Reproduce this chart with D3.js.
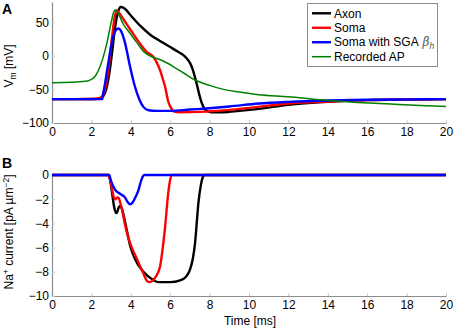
<!DOCTYPE html>
<html>
<head>
<meta charset="utf-8">
<script src="https://cdn.jsdelivr.net/npm/d3@7"></script>
<style>
  body { margin: 0; background: #fff; }
  svg { display: block; font-family: "Liberation Sans", Arial, sans-serif; }
</style>
</head>
<body>
<div id="chart"></div>
<script>
// DATA  (time in ms, membrane potential in mV, current in pA um^-2)
const timeTicks = [0, 2, 4, 6, 8, 10, 12, 14, 16, 18, 20];
const vmTicks = [-100, -50, 0, 50];
const naTicks = [-10, -8, -6, -4, -2, 0];
const seriesNames = ['Axon', 'Soma', 'Soma with SGA', 'Recorded AP'];

const axonVm = [[0,-64.5],[2,-64.3],[2.4,-63.5],[2.6,-60],[2.75,-50],[2.9,-28],[3.05,5],[3.2,42],[3.35,65],[3.5,72.5],[3.7,70],[4.0,60],[4.5,44],[5.0,31],[5.48,22],[6.0,13],[6.4,6],[6.67,1],[6.9,-6],[7.09,-16],[7.22,-28],[7.34,-41],[7.47,-57],[7.6,-70],[7.72,-78],[7.85,-82],[8.1,-84],[8.7,-84],[9.5,-82],[10.5,-79],[12,-73],[14,-68.5],[16,-66],[18,-65],[20,-64.5]];
const somaVm = [[0,-64.5],[2,-64.3],[2.4,-63],[2.6,-58],[2.75,-42],[2.9,-12],[3.05,28],[3.18,57],[3.28,67.5],[3.4,64],[3.7,51],[4.0,38],[4.47,18],[4.8,6],[5.14,-1.5],[5.3,-9],[5.48,-21],[5.6,-32],[5.74,-46],[5.9,-68],[6.05,-78],[6.2,-83],[6.5,-84],[7.5,-83.5],[9,-80.5],[10,-77.5],[12,-71],[14,-68],[16,-66],[18,-65],[20,-64.5]];
const sgaVm = [[0,-64.5],[2.55,-64.5],[2.57,-61],[2.7,-40],[2.85,-12],[3.0,14],[3.12,30],[3.25,38.5],[3.37,40.5],[3.5,37],[3.7,20],[3.96,-16],[4.2,-45],[4.45,-66],[4.64,-76],[4.9,-81],[5.3,-82],[6,-82],[7,-80],[8,-78],[9,-75.5],[10.5,-71],[12,-68.5],[14,-66.5],[16,-65.5],[18,-65],[20,-64.5]];
const recordedVm = [[0,-40],[1,-39.5],[1.7,-38],[2.0,-35],[2.2,-30],[2.44,-16],[2.6,-2],[2.78,18],[2.9,35],[3.03,53],[3.12,64],[3.2,68.5],[3.35,64],[3.6,48],[3.96,33.5],[4.3,20],[4.7,5],[5.06,-1.5],[5.5,-6],[6.16,-16],[6.7,-26],[7.26,-36],[8,-44],[8.7,-50],[9.5,-54],[10.5,-58],[12,-61],[13.6,-65.5],[15.3,-69],[17,-71.5],[18.7,-74],[20,-75.4]];

const axonNa = [[0,0],[2.85,0],[2.95,-0.4],[3.05,-1.5],[3.15,-2.6],[3.25,-3.15],[3.3,-3.1],[3.38,-2.7],[3.45,-2.55],[3.55,-2.8],[3.7,-3.8],[3.96,-5.8],[4.2,-6.9],[4.64,-8.0],[5.14,-8.68],[5.4,-8.85],[6.0,-8.85],[6.5,-8.7],[6.8,-8.4],[7.0,-7.85],[7.15,-6.9],[7.26,-5.65],[7.35,-3.9],[7.43,-2.34],[7.55,-0.9],[7.68,-0.1],[7.75,0],[20,0]];
const somaNa = [[0,0],[2.85,0],[2.95,-0.4],[3.05,-1.2],[3.15,-1.9],[3.22,-2.0],[3.3,-1.85],[3.38,-1.9],[3.5,-2.5],[3.79,-4.7],[4.05,-6.0],[4.3,-6.9],[4.6,-8.0],[4.85,-8.8],[4.95,-8.85],[5.1,-8.75],[5.25,-8.45],[5.48,-7.6],[5.6,-6.3],[5.74,-4.3],[5.9,-1.5],[6.0,-0.4],[6.08,0],[20,0]];
const sgaNa = [[0,0],[2.9,0],[3.0,-0.5],[3.2,-1.2],[3.45,-1.55],[3.7,-1.85],[3.85,-2.25],[3.96,-2.42],[4.1,-2.25],[4.25,-1.8],[4.38,-1.3],[4.5,-0.6],[4.6,-0.15],[4.7,0],[20,0]];

// SETTINGS
const width = 454, height = 331;
const colors = ['#000000', '#ff0000', '#0000ff', '#007f00'];
const widths = [2.4, 2.4, 2.4, 1.5];
const axisColor = '#8c8c8c';
const fontSize = '12px';

const svg = d3.select('#chart').append('svg')
  .attr('width', width)
  .attr('height', height);

// SCALES
const x = d3.scaleLinear().domain([0, 20]).range([52, 446]);
const yA = d3.scaleLinear().domain([-100, 80]).range([123, 2]);
const yB = d3.scaleLinear().domain([-10, 0]).range([296, 175]);

function drawAxes(y, ticks, yBottom) {
  const xAxis = d3.axisBottom(x).tickValues(timeTicks)
    .tickSizeInner(-3).tickSizeOuter(0).tickPadding(4)
    .tickFormat(d3.format('d'));
  const yAxis = d3.axisLeft(y).tickValues(ticks)
    .tickSizeInner(-3).tickSizeOuter(0).tickPadding(3)
    .tickFormat(d3.format('d'));

  const gx = svg.append('g')
    .attr('transform', `translate(0, ${yBottom})`)
    .call(xAxis);
  const gy = svg.append('g')
    .attr('transform', `translate(${x(0)}, 0)`)
    .call(yAxis);

  [gx, gy].forEach(g => {
    g.select('.domain').attr('stroke', axisColor).attr('stroke-width', 1.2);
    g.selectAll('.tick line').attr('stroke', '#c8c8c8');
    g.selectAll('.tick text').attr('fill', '#000').style('font-size', fontSize);
  });
}

drawAxes(yA, vmTicks, 123);
drawAxes(yB, naTicks, 296);

// LINES
const lineA = d3.line().x(d => x(d[0])).y(d => yA(d[1])).curve(d3.curveMonotoneX);
const lineB = d3.line().x(d => x(d[0])).y(d => yB(d[1])).curve(d3.curveMonotoneX);

[axonVm, somaVm, sgaVm, recordedVm].forEach((s, i) => {
  svg.append('path')
    .datum(s)
    .attr('fill', 'none')
    .attr('stroke', colors[i])
    .attr('stroke-width', widths[i])
    .attr('stroke-linejoin', 'round')
    .attr('d', lineA);
});

[axonNa, somaNa, sgaNa].forEach((s, i) => {
  svg.append('path')
    .datum(s)
    .attr('fill', 'none')
    .attr('stroke', colors[i])
    .attr('stroke-width', widths[i])
    .attr('stroke-linejoin', 'round')
    .attr('d', lineB);
});

// PANEL LETTERS
svg.append('text').attr('x', 2).attr('y', 14)
  .style('font-weight', 'bold').style('font-size', '14px').text('A');
svg.append('text').attr('x', 2).attr('y', 168)
  .style('font-weight', 'bold').style('font-size', '14px').text('B');

// AXIS LABELS
const vmLabel = svg.append('text')
  .attr('transform', 'translate(13, 66) rotate(-90)')
  .attr('text-anchor', 'middle')
  .style('font-size', fontSize);
vmLabel.append('tspan').text('V');
vmLabel.append('tspan').attr('dy', 2.5).style('font-size', '8.5px').text('m');
vmLabel.append('tspan').attr('dy', -2.5).text(' [mV]');

const naLabel = svg.append('text')
  .attr('transform', 'translate(13, 232) rotate(-90)')
  .attr('text-anchor', 'middle')
  .style('font-size', fontSize);
naLabel.append('tspan').text('Na');
naLabel.append('tspan').attr('dy', -4).style('font-size', '8.5px').text('+');
naLabel.append('tspan').attr('dy', 4).text(' current [pA µm');
naLabel.append('tspan').attr('dy', -4).style('font-size', '8.5px').text('−2');
naLabel.append('tspan').attr('dy', 4).text(']');

svg.append('text')
  .attr('x', 250).attr('y', 325)
  .attr('text-anchor', 'middle')
  .style('font-size', fontSize)
  .text('Time [ms]');

// LEGEND
const legend = svg.append('g');
legend.append('rect')
  .attr('x', 307.5).attr('y', 3.5)
  .attr('width', 130).attr('height', 63)
  .attr('fill', '#fff')
  .attr('stroke', '#8c8c8c');

const rowY = d3.scaleLinear().domain([0, 3]).range([13.3, 56.7]);
seriesNames.forEach((name, i) => {
  legend.append('line')
    .attr('x1', 312).attr('x2', 331)
    .attr('y1', rowY(i)).attr('y2', rowY(i))
    .attr('stroke', colors[i])
    .attr('stroke-width', widths[i]);
  const t = legend.append('text')
    .attr('x', 334).attr('y', rowY(i) + 4.2)
    .style('font-size', fontSize)
    .text(name);
  if (i === 2) {
    t.append('tspan').attr('fill', '#555').style('font-style', 'italic')
      .attr('font-family', '"DejaVu Serif", serif').text(' β');
    t.append('tspan').attr('fill', '#555').style('font-style', 'italic')
      .attr('dy', 2.5).style('font-size', '8.5px').text('h');
  }
});
</script>
</body>
</html>
